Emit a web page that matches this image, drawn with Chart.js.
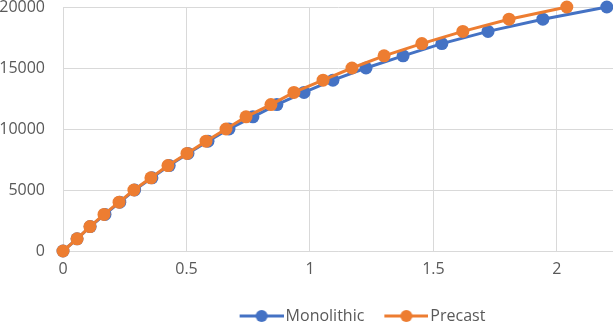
<!DOCTYPE html>
<html lang="en">
<head>
<meta charset="UTF-8">
<title>Monolithic vs Precast</title>
<script src="https://cdn.jsdelivr.net/npm/chart.js"></script>
<style>
  html, body { margin: 0; padding: 0; background: #fff; }
  #wrap { width: 613px; height: 322px; }
</style>
</head>
<body>
<div id="wrap"><canvas id="chart" width="613" height="322"></canvas></div>
<script>
// load values (y) and displacement (x)
const loads = [0, 1000, 2000, 3000, 4000, 5000, 6000, 7000, 8000, 9000, 10000,
  11000, 12000, 13000, 14000, 15000, 16000, 17000, 18000, 19000, 20000];
const monolithicX = [0, 0.057, 0.11, 0.17, 0.23, 0.29, 0.36, 0.43, 0.506, 0.587, 0.672,
  0.769, 0.866, 0.976, 1.093, 1.227, 1.377, 1.534, 1.721, 1.943, 2.202];
const precastX = [0, 0.057, 0.109, 0.166, 0.227, 0.287, 0.356, 0.425, 0.502, 0.579, 0.66,
  0.741, 0.842, 0.935, 1.053, 1.170, 1.300, 1.453, 1.619, 1.806, 2.040];
const xTicks = [0, 0.5, 1, 1.5, 2];
const yTicks = [0, 5000, 10000, 15000, 20000];

const BLUE = "#4472C4";
const ORANGE = "#ED7D31";
const FONT = { family: "'Open Sans', sans-serif", size: 16 };

function pairs(xs) {
  return xs.map((x, i) => ({ x: x, y: loads[i] }));
}

// line + dot picture for the legend, like the excel one
// (6px blank on the left so the gaps around it come out right)
function legendMark(color) {
  const c = document.createElement("canvas");
  c.width = 50; c.height = 14;
  const g = c.getContext("2d");
  g.strokeStyle = color; g.lineWidth = 3;
  g.beginPath(); g.moveTo(6, 7); g.lineTo(50, 7); g.stroke();
  g.fillStyle = color;
  g.beginPath(); g.arc(28, 7, 6, 0, Math.PI * 2); g.fill();
  return c;
}

// the original legend sits right of the canvas centre
const legendShift = {
  id: "legendShift",
  afterLayout(chart) {
    chart.legend.left += 56;
    chart.legend.right += 56;
  }
};

new Chart(document.getElementById("chart"), {
  type: "scatter",
  data: {
    datasets: [
      {
        label: "Monolithic",
        data: pairs(monolithicX),
        showLine: true,
        borderColor: BLUE, backgroundColor: BLUE,
        borderWidth: 3, pointRadius: 6.5, pointBorderWidth: 0,
        clip: false,
        order: 1
      },
      {
        label: "Precast",
        data: pairs(precastX),
        showLine: true,
        borderColor: ORANGE, backgroundColor: ORANGE,
        borderWidth: 3, pointRadius: 6.5, pointBorderWidth: 0,
        clip: false,
        order: 0
      }
    ]
  },
  plugins: [legendShift],
  options: {
    responsive: false,
    animation: false,
    layout: { autoPadding: false, padding: { top: 7, right: 0, left: 0, bottom: -12 } },
    scales: {
      x: {
        type: "linear",
        min: 0, max: 2.227,
        afterBuildTicks: s => { s.ticks = xTicks.map(v => ({ value: v })); },
        afterFit: s => { s.height = 37; s.paddingLeft = 0; s.paddingRight = 0; },
        grid: { color: "#d9d9d9", drawTicks: false },
        border: { color: "#d9d9d9" },
        ticks: { color: "#595959", font: FONT, padding: 9, callback: v => String(v) }
      },
      y: {
        min: 0, max: 20000,
        afterBuildTicks: s => { s.ticks = yTicks.map(v => ({ value: v })); },
        afterFit: s => { s.width = 63; s.paddingTop = 0; s.paddingBottom = 0; },
        grid: { color: "#d9d9d9", drawTicks: false },
        border: { color: "#d9d9d9" },
        ticks: { color: "#595959", font: FONT, padding: 18, callback: v => String(v) }
      }
    },
    plugins: {
      tooltip: { enabled: false },
      legend: {
        position: "bottom",
        labels: {
          color: "#595959",
          font: FONT,
          usePointStyle: true,
          pointStyleWidth: 38,
          padding: 20,
          generateLabels: chart => {
            const items = Chart.defaults.plugins.legend.labels.generateLabels(chart);
            items.sort((a, b) => a.datasetIndex - b.datasetIndex);
            items.forEach(it => {
              it.pointStyle = legendMark(chart.data.datasets[it.datasetIndex].borderColor);
            });
            return items;
          }
        }
      }
    }
  }
});
</script>
</body>
</html>
